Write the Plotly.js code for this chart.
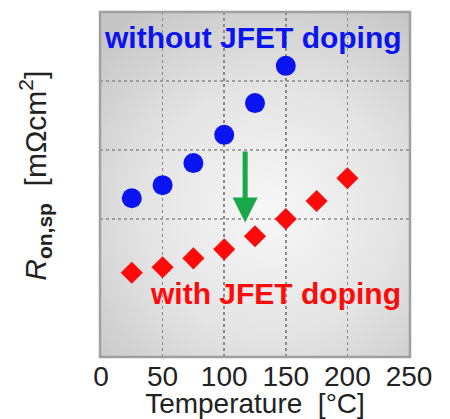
<!DOCTYPE html>
<html><head><meta charset="utf-8">
<script src="https://cdn.plot.ly/plotly-3.0.1.min.js"></script>
<style>body{margin:0;background:#fff}#c{width:450px;height:419px}</style>
</head><body><div id="c"></div>
<script>
const tempWithout = [25, 50, 75, 100, 125, 150];
const ronWithout = [2.30, 2.49, 2.81, 3.22, 3.68, 4.22];
const tempWith = [25, 50, 75, 100, 125, 150, 175, 200];
const ronWith = [1.22, 1.30, 1.43, 1.56, 1.75, 2.00, 2.26, 2.59];
const xTicks = [0, 50, 100, 150, 200, 250];
const yGrid = [2, 3, 4];
const arrowX = 117, arrowFrom = 3.0, arrowTo = 1.95;

// gradient background image
const cv = document.createElement('canvas');
cv.width = 310; cv.height = 345;
const ctx = cv.getContext('2d');
const g = ctx.createRadialGradient(170, 200, 10, 170, 200, 240);
g.addColorStop(0, '#f6f6f6');
g.addColorStop(0.5, '#e4e4e4');
g.addColorStop(1, '#c6c6c6');
ctx.fillStyle = g; ctx.fillRect(0, 0, 310, 345);
const bg = cv.toDataURL();

const traces = [
  {x: tempWithout, y: ronWithout, mode: 'markers', type: 'scatter',
   marker: {symbol: 'circle', size: 20, color: '#0a14f0'}},
  {x: tempWith, y: ronWith, mode: 'markers', type: 'scatter',
   marker: {symbol: 'diamond', size: 17, color: '#ff0a0a'}}
];

const shapes = yGrid.map(v => ({type: 'line', xref: 'paper', yref: 'y', x0: 0, x1: 1, y0: v, y1: v,
  line: {color: '#8a8a8a', width: 1.5, dash: 'dot'}, layer: 'below'}));
shapes.push({type: 'rect', xref: 'paper', yref: 'paper', x0: 0, x1: 1, y0: 0, y1: 1,
  line: {color: '#a0a0a0', width: 2.5}});

const layout = {
  width: 450, height: 419,
  margin: {l: 100, r: 40, t: 12, b: 62},
  paper_bgcolor: '#fff', plot_bgcolor: '#d8d8d8',
  showlegend: false,
  font: {family: 'Liberation Sans, Arial, sans-serif', color: '#222'},
  images: [{source: bg, xref: 'paper', yref: 'paper', x: 0, y: 1, sizex: 1, sizey: 1,
    sizing: 'stretch', layer: 'below', xanchor: 'left', yanchor: 'top'}],
  xaxis: {range: [-0.8, 250.8], tickvals: xTicks, ticks: '', showgrid: true,
    gridcolor: '#8a8a8a', griddash: 'dot', gridwidth: 1.5, zeroline: false,
    tickfont: {size: 28, color: '#222'}, ticklabelstandoff: 0,
    title: {text: 'Temperature  [°C]', font: {size: 28, color: '#222'}, standoff: 0}},
  yaxis: {range: [0, 5], showticklabels: false, ticks: '', showgrid: false, zeroline: false},
  shapes: shapes,
  annotations: [
    {text: '<b>without JFET doping</b>', xref: 'paper', yref: 'paper', x: 0.494, y: 0.927,
     xanchor: 'center', yanchor: 'middle',
     showarrow: false, font: {size: 30, color: '#0a14f0'}},
    {text: '<b>with JFET doping</b>', xref: 'paper', yref: 'paper', x: 0.565, y: 0.183,
     xanchor: 'center', yanchor: 'middle',
     showarrow: false, font: {size: 30, color: '#ff0a0a'}},
    {x: arrowX, y: arrowTo, ax: arrowX, ay: arrowFrom, xref: 'x', yref: 'y', axref: 'x', ayref: 'y',
     text: '', showarrow: true, arrowhead: 2, arrowsize: 1, arrowwidth: 5, arrowcolor: '#1aa64a'},
    {text: '<i>R</i><sub><b>on,sp</b></sub>  [mΩcm<sup>2</sup>]', xref: 'paper', yref: 'paper',
     x: -0.21, y: 0.525, xanchor: 'center', yanchor: 'middle', textangle: -90, showarrow: false,
     font: {size: 30, color: '#222'}}
  ]
};
Plotly.newPlot('c', traces, layout, {displayModeBar: false, staticPlot: true});
</script></body></html>
